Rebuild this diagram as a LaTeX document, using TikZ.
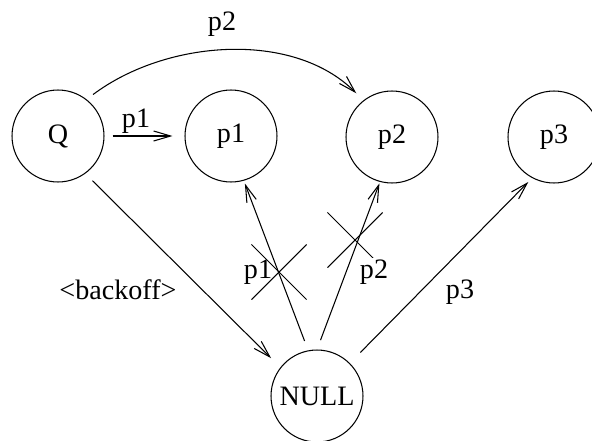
\documentclass[tikz,border=0pt]{standalone}
\usepackage{fontspec}
\setmainfont{Liberation Serif}
\usetikzlibrary{arrows.meta,shapes.misc}
\begin{document}
\begin{tikzpicture}[x=0.02cm, y=-0.02cm, line width=0.6pt,
    every node/.style={font=\fontsize{16}{19}\selectfont},
    state/.style={circle, draw, minimum size=1.84cm, inner sep=0pt},
    kill/.style={cross out, draw, minimum size=1.08cm, inner sep=0pt},
    arr/.style={-{Straight Barb[length=3.4mm, width=2mm]}}]
    \clip (0,0) rectangle (592,440);
    \node[state] (Q) at (58,136) {Q};
    \node[state] (p1) at (231,136) {p1};
    \node[state] (p2) at (392,137) {p2};
    \node[state] (p3) at (554,137) {p3};
    \node[state] (null) at (317,396) {NULL};
    \draw[arr, shorten <=0.16cm, shorten >=0.24cm] (Q) -- (p1);
    \draw[arr, shorten <=0.16cm, shorten >=0.2cm] (Q.52) .. controls +(80,-60) and +(-70,-70) .. (p2.128);
    \draw[arr, shorten <=0.2cm, shorten >=0.26cm] (Q.-54) -- (null.142);
    \draw[arr, shorten <=0.2cm, shorten >=0.06cm] (null.101) -- (p1.-74);
    \draw[arr, shorten <=0.2cm, shorten >=0.03cm] (null.90) -- (p2.-105);
    \draw[arr, shorten <=0.3cm, shorten >=0.11cm] (null.45) -- (p3.-118);
    \node[kill] (x1) at (279,272) {};
    \node[kill] (x2) at (355,240) {};
    \node (l1) at (136,121) {p1};
    \node (l2) at (222,24) {p2};
    \node (lb) at (118,290) {<backoff>};
    \node (l3) at (460,292) {p3};
    \node (c1) at (258,272) {p1};
    \node[fill=white, inner sep=1pt] (c2) at (374,272) {p2};
\end{tikzpicture}
\end{document}
